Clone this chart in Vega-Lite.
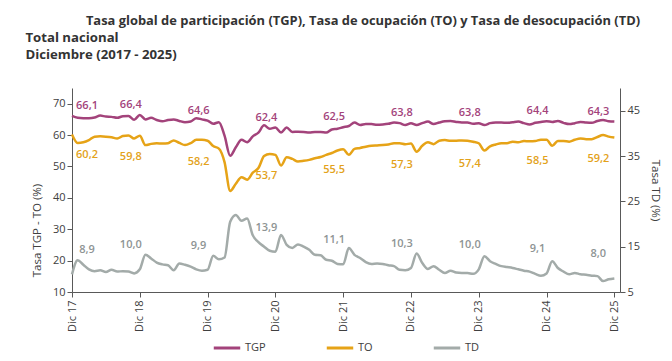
{
  "$schema": "https://vega.github.io/schema/vega-lite/v6.json",
  "padding": {"left": 25, "right": 4, "top": 14, "bottom": 2},
  "background": "white",
  "title": {
    "text": "Tasa global de participación (TGP), Tasa de ocupación (TO) y Tasa de desocupación (TD)",
    "anchor": "middle",
    "font": "Open Sans",
    "fontSize": 12.9,
    "fontWeight": "bold",
    "color": "#333333",
    "dx": 20,
    "offset": 3
  },
  "config": {
    "view": {"stroke": null},
    "font": "Open Sans",
    "locale": {"number": {"decimal": ",", "thousands": ".", "grouping": [3], "currency": ["$", ""]}},
    "axis": {
      "labelFont": "Open Sans",
      "labelFontSize": 11,
      "labelColor": "#404040",
      "titleFont": "Open Sans",
      "titleFontSize": 11.5,
      "titleFontWeight": "normal",
      "titleColor": "#404040",
      "domainColor": "#595959",
      "tickColor": "#595959",
      "grid": false
    },
    "legend": {
      "labelFont": "Open Sans",
      "labelFontSize": 11,
      "labelColor": "#404040"
    }
  },
  "datasets": {
    "serie": [
      {"m": 0, "TGP": 66.1, "TO": 60.2, "TD": 8.9},
      {"m": 1, "TGP": 65.5, "TO": 57.5, "TD": 12.0},
      {"m": 2, "TGP": 65.4, "TO": 57.7, "TD": 11.0},
      {"m": 3, "TGP": 65.4, "TO": 58.4, "TD": 10.0},
      {"m": 4, "TGP": 65.6, "TO": 59.5, "TD": 9.6},
      {"m": 5, "TGP": 66.2, "TO": 59.6, "TD": 9.8},
      {"m": 6, "TGP": 65.9, "TO": 59.5, "TD": 9.4},
      {"m": 7, "TGP": 65.8, "TO": 59.3, "TD": 9.9},
      {"m": 8, "TGP": 65.5, "TO": 58.9, "TD": 9.5},
      {"m": 9, "TGP": 66.0, "TO": 59.7, "TD": 9.6},
      {"m": 10, "TGP": 66.1, "TO": 59.9, "TD": 9.5},
      {"m": 11, "TGP": 64.9, "TO": 58.9, "TD": 9.1},
      {"m": 12, "TGP": 66.4, "TO": 59.8, "TD": 10.0},
      {"m": 13, "TGP": 65.0, "TO": 56.8, "TD": 13.2},
      {"m": 14, "TGP": 65.5, "TO": 57.2, "TD": 12.4},
      {"m": 15, "TGP": 64.8, "TO": 57.4, "TD": 11.5},
      {"m": 16, "TGP": 64.4, "TO": 57.3, "TD": 11.1},
      {"m": 17, "TGP": 64.8, "TO": 57.4, "TD": 10.9},
      {"m": 18, "TGP": 65.0, "TO": 58.3, "TD": 9.8},
      {"m": 19, "TGP": 64.5, "TO": 57.5, "TD": 11.3},
      {"m": 20, "TGP": 64.1, "TO": 56.8, "TD": 11.0},
      {"m": 21, "TGP": 64.3, "TO": 57.4, "TD": 10.6},
      {"m": 22, "TGP": 65.4, "TO": 58.5, "TD": 10.0},
      {"m": 23, "TGP": 65.0, "TO": 58.5, "TD": 9.7},
      {"m": 24, "TGP": 64.6, "TO": 58.2, "TD": 9.9},
      {"m": 25, "TGP": 63.6, "TO": 56.5, "TD": 13.0},
      {"m": 26, "TGP": 64.1, "TO": 55.7, "TD": 12.2},
      {"m": 27, "TGP": 59.8, "TO": 51.4, "TD": 12.6},
      {"m": 28, "TGP": 53.4, "TO": 42.2, "TD": 20.5},
      {"m": 29, "TGP": 56.1, "TO": 44.5, "TD": 22.0},
      {"m": 30, "TGP": 58.5, "TO": 46.6, "TD": 20.7},
      {"m": 31, "TGP": 57.7, "TO": 45.8, "TD": 21.2},
      {"m": 32, "TGP": 59.6, "TO": 48.0, "TD": 17.5},
      {"m": 33, "TGP": 60.8, "TO": 49.5, "TD": 16.0},
      {"m": 34, "TGP": 63.1, "TO": 53.3, "TD": 15.0},
      {"m": 35, "TGP": 62.0, "TO": 54.0, "TD": 14.1},
      {"m": 36, "TGP": 62.4, "TO": 53.7, "TD": 13.9},
      {"m": 37, "TGP": 60.8, "TO": 50.3, "TD": 17.6},
      {"m": 38, "TGP": 62.4, "TO": 52.9, "TD": 15.4},
      {"m": 39, "TGP": 61.0, "TO": 52.4, "TD": 14.7},
      {"m": 40, "TGP": 61.1, "TO": 51.6, "TD": 15.5},
      {"m": 41, "TGP": 61.0, "TO": 51.8, "TD": 15.0},
      {"m": 42, "TGP": 60.8, "TO": 52.1, "TD": 14.3},
      {"m": 43, "TGP": 61.0, "TO": 52.6, "TD": 13.2},
      {"m": 44, "TGP": 61.0, "TO": 53.0, "TD": 13.1},
      {"m": 45, "TGP": 60.8, "TO": 53.7, "TD": 12.1},
      {"m": 46, "TGP": 61.8, "TO": 54.3, "TD": 11.9},
      {"m": 47, "TGP": 62.0, "TO": 55.1, "TD": 11.2},
      {"m": 48, "TGP": 62.5, "TO": 55.5, "TD": 11.1},
      {"m": 49, "TGP": 62.9, "TO": 53.7, "TD": 14.7},
      {"m": 50, "TGP": 64.0, "TO": 55.6, "TD": 13.2},
      {"m": 51, "TGP": 63.2, "TO": 55.9, "TD": 12.5},
      {"m": 52, "TGP": 63.5, "TO": 56.3, "TD": 11.6},
      {"m": 53, "TGP": 63.5, "TO": 56.6, "TD": 11.2},
      {"m": 54, "TGP": 63.3, "TO": 56.7, "TD": 11.3},
      {"m": 55, "TGP": 63.4, "TO": 56.8, "TD": 11.2},
      {"m": 56, "TGP": 63.6, "TO": 57.0, "TD": 10.9},
      {"m": 57, "TGP": 64.0, "TO": 57.4, "TD": 10.7},
      {"m": 58, "TGP": 63.8, "TO": 57.4, "TD": 9.9},
      {"m": 59, "TGP": 63.2, "TO": 57.1, "TD": 9.8},
      {"m": 60, "TGP": 63.8, "TO": 57.3, "TD": 10.3},
      {"m": 61, "TGP": 63.2, "TO": 54.7, "TD": 13.5},
      {"m": 62, "TGP": 63.8, "TO": 56.6, "TD": 11.4},
      {"m": 63, "TGP": 64.3, "TO": 57.7, "TD": 10.1},
      {"m": 64, "TGP": 63.5, "TO": 57.1, "TD": 10.7},
      {"m": 65, "TGP": 64.0, "TO": 58.2, "TD": 9.9},
      {"m": 66, "TGP": 64.4, "TO": 58.4, "TD": 9.2},
      {"m": 67, "TGP": 64.5, "TO": 58.2, "TD": 9.7},
      {"m": 68, "TGP": 64.2, "TO": 58.2, "TD": 9.3},
      {"m": 69, "TGP": 64.0, "TO": 58.3, "TD": 9.2},
      {"m": 70, "TGP": 64.0, "TO": 58.2, "TD": 9.2},
      {"m": 71, "TGP": 63.6, "TO": 57.9, "TD": 9.0},
      {"m": 72, "TGP": 63.8, "TO": 57.4, "TD": 10.0},
      {"m": 73, "TGP": 63.2, "TO": 55.1, "TD": 12.9},
      {"m": 74, "TGP": 63.8, "TO": 56.4, "TD": 11.8},
      {"m": 75, "TGP": 64.0, "TO": 57.0, "TD": 11.2},
      {"m": 76, "TGP": 64.0, "TO": 57.4, "TD": 10.7},
      {"m": 77, "TGP": 63.9, "TO": 57.4, "TD": 10.5},
      {"m": 78, "TGP": 64.1, "TO": 57.9, "TD": 10.3},
      {"m": 79, "TGP": 64.3, "TO": 57.7, "TD": 10.0},
      {"m": 80, "TGP": 63.8, "TO": 58.1, "TD": 9.7},
      {"m": 81, "TGP": 63.4, "TO": 58.0, "TD": 9.5},
      {"m": 82, "TGP": 63.9, "TO": 58.1, "TD": 9.0},
      {"m": 83, "TGP": 64.2, "TO": 58.5, "TD": 8.6},
      {"m": 84, "TGP": 64.4, "TO": 58.5, "TD": 9.1},
      {"m": 85, "TGP": 64.2, "TO": 56.6, "TD": 11.8},
      {"m": 86, "TGP": 64.5, "TO": 58.1, "TD": 10.3},
      {"m": 87, "TGP": 63.9, "TO": 58.1, "TD": 9.5},
      {"m": 88, "TGP": 63.5, "TO": 57.9, "TD": 8.9},
      {"m": 89, "TGP": 63.8, "TO": 58.5, "TD": 9.2},
      {"m": 90, "TGP": 64.2, "TO": 58.9, "TD": 8.9},
      {"m": 91, "TGP": 64.0, "TO": 58.7, "TD": 8.8},
      {"m": 92, "TGP": 63.9, "TO": 58.7, "TD": 8.6},
      {"m": 93, "TGP": 64.5, "TO": 59.4, "TD": 8.5},
      {"m": 94, "TGP": 64.8, "TO": 60.0, "TD": 7.4},
      {"m": 95, "TGP": 64.4, "TO": 59.5, "TD": 7.8},
      {"m": 96, "TGP": 64.3, "TO": 59.2, "TD": 8.0}
    ]
  },
  "vconcat": [
    {
      "title": {
        "text": ["Total nacional", "Diciembre (2017 - 2025)"],
        "anchor": "start",
        "frame": "bounds",
        "font": "Open Sans",
        "fontSize": 13.2,
        "fontWeight": "bold",
        "color": "#333333",
        "lineHeight": 17,
        "dx": -6,
        "offset": 26
      },
      "width": 548,
      "height": 204,
      "data": {"name": "serie"},
      "encoding": {
        "x": {
          "field": "m",
          "type": "quantitative",
          "scale": {"domain": [0, 97], "nice": false, "zero": false},
          "axis": {
            "values": [0, 12, 24, 36, 48, 60, 72, 84, 96],
            "labelExpr": "'Dic ' + (17 + datum.value / 12)",
            "labelAngle": -90,
            "labelPadding": 3,
            "tickSize": 5,
            "title": null
          }
        }
      },
      "layer": [
        {
          "transform": [{"fold": ["TGP", "TO"], "as": ["serie", "valor"]}],
          "encoding": {
            "y": {
              "field": "valor",
              "type": "quantitative",
              "scale": {"domain": [10, 75], "nice": false, "zero": false},
              "axis": {
                "values": [10, 20, 30, 40, 50, 60, 70],
                "title": "Tasa TGP - TO (%)",
                "titlePadding": 10,
                "titleY": 142,
                "tickSize": 5
              }
            }
          },
          "layer": [
            {
              "mark": {"type": "line", "strokeWidth": 2.5, "interpolate": "monotone"},
              "encoding": {
                "color": {
                  "field": "serie",
                  "type": "nominal",
                  "scale": {"domain": ["TGP", "TO", "TD"], "range": ["#A3437B", "#E6A317", "#A3ABA9"]},
                  "legend": {
                    "orient": "none",
                    "legendX": 140,
                    "legendY": 245,
                    "direction": "horizontal",
                    "title": null,
                    "symbolType": "stroke",
                    "symbolSize": 700,
                    "symbolStrokeWidth": 3,
                    "labelOffset": 3,
                    "columnPadding": 54
                  }
                }
              }
            },
            {
              "transform": [{"filter": "datum.serie === 'TGP' && datum.m % 12 === 0"}],
              "mark": {
                "type": "text",
                "fontSize": 11,
                "fontWeight": 600,
                "color": "#A3437B",
                "baseline": "middle",
                "dy": -10,
                "dx": {"expr": "datum.m === 0 ? 15 : (datum.m === 96 ? -16 : -9)"}
              },
              "encoding": {"text": {"field": "valor", "type": "quantitative", "format": ".1f"}}
            },
            {
              "transform": [{"filter": "datum.serie === 'TO' && datum.m % 12 === 0"}],
              "mark": {
                "type": "text",
                "fontSize": 11,
                "fontWeight": 600,
                "color": "#E3A21A",
                "baseline": "middle",
                "dy": 21,
                "dx": {"expr": "datum.m === 0 ? 15 : (datum.m === 96 ? -16 : -9)"}
              },
              "encoding": {"text": {"field": "valor", "type": "quantitative", "format": ".1f"}}
            }
          ]
        },
        {
          "transform": [{"fold": ["TD"], "as": ["serie", "valor"]}],
          "encoding": {
            "y": {
              "field": "valor",
              "type": "quantitative",
              "scale": {"domain": [5, 50], "nice": false, "zero": false},
              "axis": {
                "orient": "right",
                "values": [5, 15, 25, 35, 45],
                "title": "Tasa TD (%)",
                "titlePadding": 10,
                "tickSize": 5
              }
            }
          },
          "layer": [
            {
              "mark": {"type": "line", "strokeWidth": 2.5, "interpolate": "monotone"},
              "encoding": {"color": {"field": "serie", "type": "nominal"}}
            },
            {
              "transform": [{"filter": "datum.m % 12 === 0"}],
              "mark": {
                "type": "text",
                "fontSize": 11,
                "fontWeight": 600,
                "color": "#8E9494",
                "baseline": "middle",
                "dy": -24,
                "dx": {"expr": "datum.m === 0 ? 15 : (datum.m === 96 ? -16 : -9)"}
              },
              "encoding": {"text": {"field": "valor", "type": "quantitative", "format": ".1f"}}
            }
          ]
        }
      ],
      "resolve": {"scale": {"y": "independent"}}
    }
  ]
}
